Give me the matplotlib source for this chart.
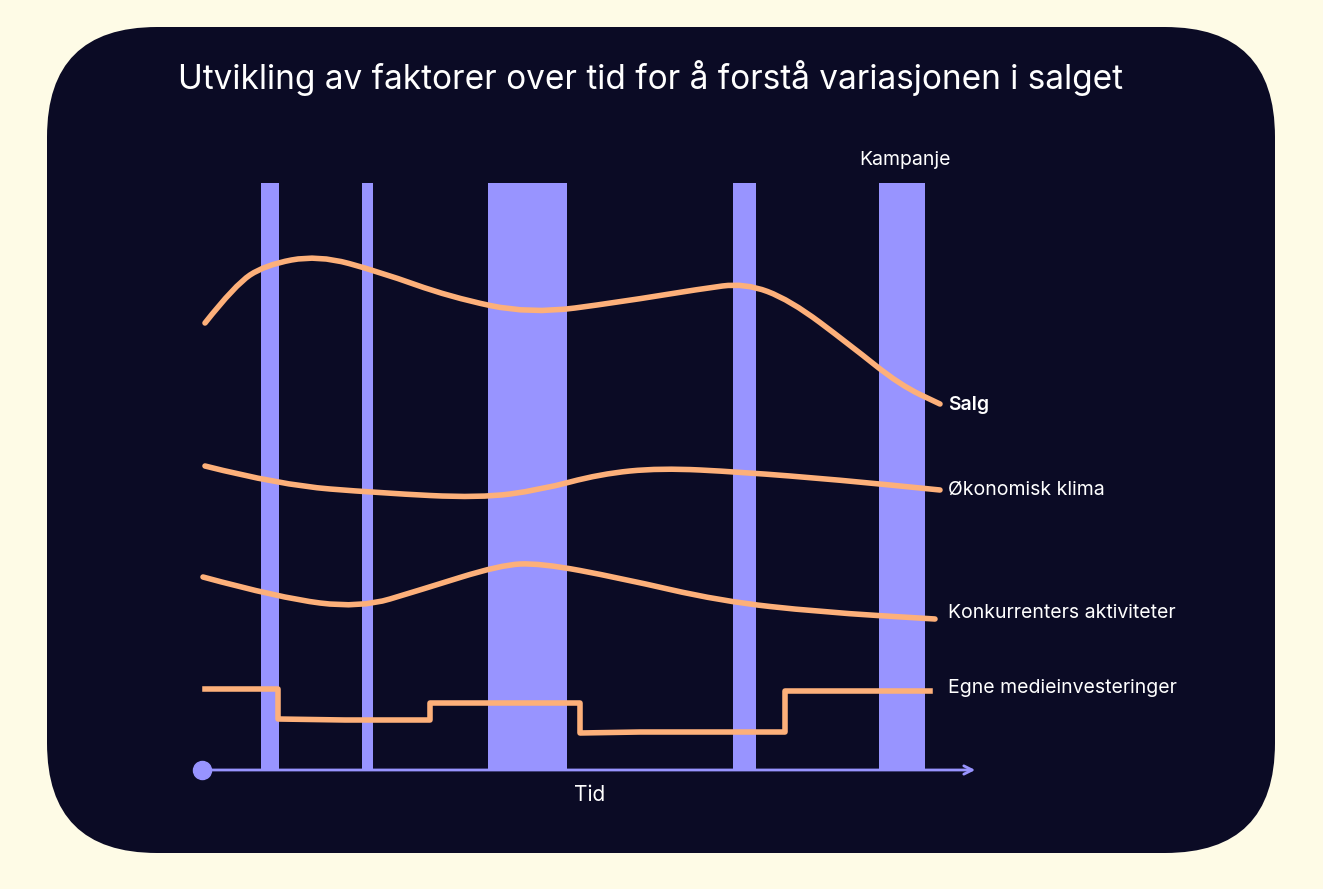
import matplotlib.pyplot as plt
from matplotlib.patches import FancyBboxPatch, PathPatch
from matplotlib.path import Path

# time axis in picture units, values as vertical positions (top = high)
kampanje_start = [261, 362, 488, 733, 879]
kampanje_slutt = [279, 373, 567, 756, 925]

salg_t = [205, 235, 265, 318, 380, 450, 530, 620, 700, 745, 790, 850, 900, 940]
salg_v = [323, 285, 265, 255, 272, 297, 314, 302, 289, 283, 300, 345, 385, 404]

klima_t = [205, 280, 380, 480, 540, 600, 660, 740, 840, 940]
klima_v = [466, 485, 493, 498, 490, 474, 468, 472, 480, 490]

konk_t = [203, 280, 360, 420, 500, 540, 620, 720, 820, 935]
konk_v = [577, 598, 608, 590, 565, 563, 578, 601, 612, 619]

medie_t = [205, 278, 278, 345, 430, 430, 580, 580, 640, 785, 785, 930]
medie_v = [689, 689, 719, 720, 720, 703, 703, 733, 732, 732, 691, 691]

labels = ["Salg", "Økonomisk klima", "Konkurrenters aktiviteter", "Egne medieinvesteringer"]
label_y = [405, 490, 613, 688]

BG = "#FEFBE6"
NAVY = "#0B0B25"
LILLA = "#9894FF"
ORANSJE = "#FDB07A"

fig = plt.figure(figsize=(13.23, 8.89), dpi=100, facecolor=BG)
ax = fig.add_axes([0, 0, 1, 1])
ax.set_xlim(0, 1323)
ax.set_ylim(889, 0)
ax.axis("off")

ax.add_patch(FancyBboxPatch((47 + 110, 27 + 110), 1228 - 220, 826 - 220,
                            boxstyle="round,pad=110", fc=NAVY, ec="none"))

for a, b in zip(kampanje_start, kampanje_slutt):
    ax.fill_between([a, b], 183, 770, color=LILLA, lw=0, zorder=2)


def smooth(t, v):
    pts = list(zip(t, v))
    verts = [pts[0]]
    codes = [Path.MOVETO]
    for i in range(1, len(pts) - 1):
        mid = ((pts[i][0] + pts[i + 1][0]) / 2, (pts[i][1] + pts[i + 1][1]) / 2)
        verts += [pts[i], mid]
        codes += [Path.CURVE3, Path.CURVE3]
    verts.append(pts[-1])
    codes.append(Path.LINETO)
    ax.add_patch(PathPatch(Path(verts, codes), fc="none", ec=ORANSJE, lw=4,
                           capstyle="round", zorder=3))


smooth(salg_t, salg_v)
smooth(klima_t, klima_v)
smooth(konk_t, konk_v)
ax.plot(medie_t, medie_v, color=ORANSJE, lw=4, zorder=3, solid_joinstyle="round")

for lab, y in zip(labels, label_y):
    ax.text(948, y, lab, color="white", fontsize=14, va="center", family="Inter",
            fontweight="semibold" if lab == "Salg" else "normal")

ax.annotate("", xy=(978, 770), xytext=(202, 770),
            arrowprops=dict(arrowstyle="->", color=LILLA, lw=2, mutation_scale=15), zorder=4)
ax.plot([202], [770], "o", ms=13, color=LILLA, zorder=5)
ax.text(590, 795, "Tid", color="white", fontsize=15, ha="center", va="center", family="Inter")
ax.text(905, 160, "Kampanje", color="white", fontsize=14, ha="center", va="center", family="Inter")
ax.text(651, 78, "Utvikling av faktorer over tid for å forstå variasjonen i salget",
        color="white", fontsize=24, ha="center", va="center", family="Inter")

fig.savefig("out.png", dpi=100, facecolor=BG)
